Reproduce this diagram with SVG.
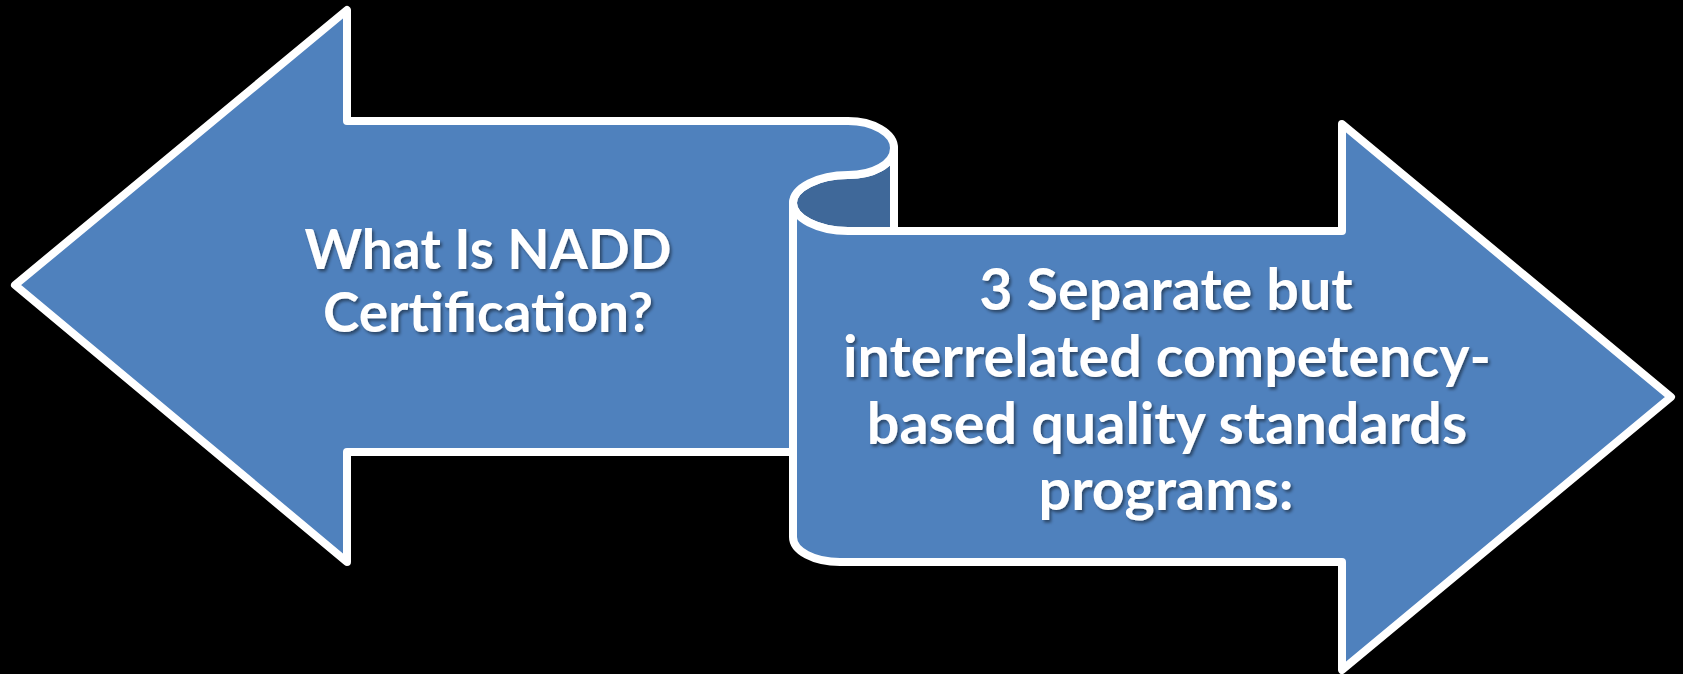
<svg xmlns="http://www.w3.org/2000/svg" width="1683" height="674" viewBox="0 0 1683 674">
  <style>
    .band { fill: #4f81bd; stroke: #ffffff; stroke-width: 8; stroke-linejoin: round; }
    .fold { fill: #3f6899; stroke: #ffffff; stroke-width: 8; stroke-linejoin: round; }
    .label { font-family: Lato, "Open Sans", "Liberation Sans", sans-serif; font-weight: 700; fill: #ffffff; text-anchor: middle; filter: url(#txtShadow); }
    .small { font-size: 55px; }
    .large { font-size: 57.5px; }
  </style>
  <defs>
    <filter id="txtShadow" x="-10%" y="-30%" width="120%" height="160%">
      <feDropShadow dx="2" dy="2.5" stdDeviation="1.6" flood-color="#000000" flood-opacity="0.45"/>
    </filter>
  </defs>
  <rect width="1683" height="674" fill="#000000"/>

  <!-- inside of the ribbon fold -->
  <g id="fold">
    <path class="fold" d="M894,148 C894,164 873,175 848,175 C818,175 793,188 793,203 C793,218 818,231 848,231 L894,231 Z"/>
  </g>

  <!-- left-pointing band -->
  <g id="node-left">
    <path class="band" d="M15,285 L347,10 L347,121 L848,121 C873,121 894,133 894,148 C894,164 873,175 848,175 C818,175 793,188 793,203 L793,452 L347,452 L347,562 Z"/>
    <text class="label small" x="488" y="269">What Is NADD</text>
    <text class="label small" x="488" y="332">Certification?</text>
  </g>

  <!-- right-pointing band -->
  <g id="node-right">
    <path class="band" d="M793,203 C793,218 818,231 848,231 L1342,231 L1342,124 L1671,397 L1342,670 L1342,562 L840,562 C814,562 793,551 793,537 Z"/>
    <text class="label large" x="1166" y="310">3 Separate but</text>
    <text class="label large" x="1167" y="377">interrelated competency-</text>
    <text class="label large" x="1167" y="444">based quality standards</text>
    <text class="label large" x="1166" y="510">programs:</text>
  </g>

  <g id="connectors"/>
</svg>
